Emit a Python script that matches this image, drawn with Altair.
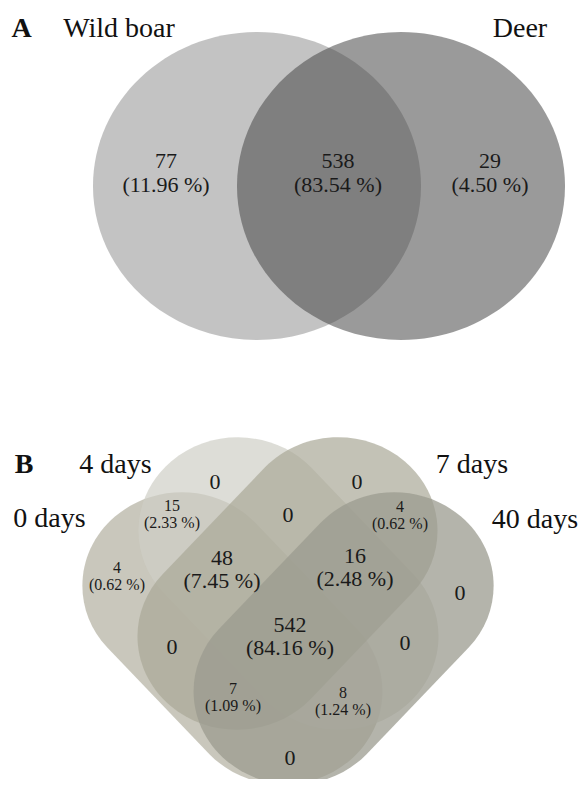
import math
import altair as alt
import pandas as pd

# ---------------- data ----------------
a_set_names = ["Wild boar", "Deer"]
a_region_counts = [77, 538, 29]
a_region_pcts = ["(11.96 %)", "(83.54 %)", "(4.50 %)"]

b_set_names = ["0 days", "4 days", "7 days", "40 days"]
b_region_counts = [0, 0, 0, 15, 4, 4, 48, 16, 0, 0, 542, 0, 7, 8, 0]
b_region_pcts = ["", "", "", "(2.33 %)", "(0.62 %)", "(0.62 %)", "(7.45 %)",
                 "(2.48 %)", "", "", "(84.16 %)", "", "(1.09 %)", "(1.24 %)", ""]

# ---------------- layout (page pixels) ----------------
STRETCH = 1.065          # the figure is slightly wider than tall
UNIT = 100.0             # path units -> pixels (size = (2*UNIT)^2)

a_shape_x = [257, 401]
a_shape_y = [186, 186]
a_shape_r = 154
a_shape_colors = ["#929292", "#474747"]
a_shape_opacity = [0.55, 0.55]

a_label_x = [166, 338, 490]
a_count_y = [161, 161, 161]
a_pct_y = [185, 185, 185]

b_shape_x = [232.4, 288.5, 287.5, 343.6]
b_shape_y = [638.5, 583.5, 583.5, 638.5]
b_shape_angle = [48, 48, 132, 132]
b_shape_half = 71.5
b_shape_r = 93.4
b_shape_colors = ["#b2afa0", "#cfcfc6", "#aaa897", "#9b9b8f"]
b_shape_opacity = [0.7, 0.7, 0.7, 0.75]

b_label_x = [215, 357, 288, 172, 400, 117, 222, 355, 460, 172, 290, 405, 233, 343, 290]
b_count_y = [482, 482, 515, 505.5, 507, 568, 557.5, 555.5, 593, 647, 625, 643, 689, 692.5, 758]
b_pct_y = [0, 0, 0, 522.5, 524, 585, 580.5, 578.5, 0, 0, 648, 0, 706, 709.5, 0]
b_small = [False, False, False, True, True, True, False, False, False, False,
           False, False, True, True, False]

set_label_text = ["Wild boar", "Deer", "4 days", "7 days", "0 days", "40 days"]
set_label_x = [119, 520, 115.5, 472, 49.5, 535]
set_label_y = [37, 37, 473, 473, 527, 528]
panel_letters = ["A", "B"]
panel_x = [21.5, 24]
panel_y = [37, 473]


def ellipse_path(rx, ry):
    rx, ry = rx / UNIT, ry / UNIT
    return (f"M {rx:.4f} 0 A {rx:.4f} {ry:.4f} 0 1 1 {-rx:.4f} 0 "
            f"A {rx:.4f} {ry:.4f} 0 1 1 {rx:.4f} 0 Z")


def stadium_path(theta_deg, half_len, radius, stretch):
    t = math.radians(theta_deg)
    c, s = math.cos(t), math.sin(t)

    def tr(px, py):
        x = (px * c - py * s) * stretch / UNIT
        y = (px * s + py * c) / UNIT
        return f"{x:.4f} {y:.4f}"

    rx = radius * stretch / UNIT
    ry = radius / UNIT
    p1 = tr(-half_len, -radius)
    p2 = tr(half_len, -radius)
    p3 = tr(half_len, radius)
    p4 = tr(-half_len, radius)
    return (f"M {p1} L {p2} A {rx:.4f} {ry:.4f} 0 0 1 {p3} "
            f"L {p4} A {rx:.4f} {ry:.4f} 0 0 1 {p1} Z")


# ---------------- tables ----------------
shape_rows = []
order = 0
for i, name in enumerate(a_set_names):
    shape_rows.append(dict(set=name, x=a_shape_x[i], y=a_shape_y[i],
                           path=ellipse_path(a_shape_r * STRETCH, a_shape_r),
                           color=a_shape_colors[i], op=a_shape_opacity[i], o=order))
    order += 1
for i, name in enumerate(b_set_names):
    shape_rows.append(dict(set=name, x=b_shape_x[i], y=b_shape_y[i],
                           path=stadium_path(b_shape_angle[i], b_shape_half, b_shape_r, STRETCH),
                           color=b_shape_colors[i], op=b_shape_opacity[i], o=order))
    order += 1
shapes = pd.DataFrame(shape_rows)

text_rows = []
for i in range(3):
    text_rows.append(dict(x=a_label_x[i], y=a_count_y[i], t=str(a_region_counts[i]), fs=22))
    text_rows.append(dict(x=a_label_x[i], y=a_pct_y[i], t=a_region_pcts[i], fs=22))
for i in range(len(b_region_counts)):
    fs = 16 if b_small[i] else 22
    text_rows.append(dict(x=b_label_x[i], y=b_count_y[i], t=str(b_region_counts[i]), fs=fs))
    if b_region_pcts[i]:
        text_rows.append(dict(x=b_label_x[i], y=b_pct_y[i], t=b_region_pcts[i], fs=fs))
region_text = pd.DataFrame(text_rows)

set_labels = pd.DataFrame(dict(x=set_label_x, y=set_label_y, t=set_label_text))
letters = pd.DataFrame(dict(x=panel_x, y=panel_y, t=panel_letters))

# ---------------- chart ----------------
X = alt.X("x:Q", scale=alt.Scale(domain=[8, 578], nice=False, zero=False), axis=None)
Y = alt.Y("y:Q", scale=alt.Scale(domain=[8, 779], nice=False, zero=False, reverse=True), axis=None)
FONT = "Liberation Serif"

shape_layer = alt.Chart(shapes).mark_point(filled=True, strokeWidth=0, size=(2 * UNIT) ** 2).encode(
    x=X, y=Y,
    shape=alt.Shape("path:N", scale=None, legend=None),
    color=alt.Color("color:N", scale=None, legend=None),
    opacity=alt.Opacity("op:Q", scale=None, legend=None),
    order=alt.Order("o:Q"),
)

region_layer = alt.Chart(region_text).mark_text(font=FONT, color="#1a1a1a", baseline="middle", align="center").encode(
    x=X, y=Y, text="t:N", size=alt.Size("fs:Q", scale=None, legend=None)
)

set_layer = alt.Chart(set_labels).mark_text(font=FONT, fontSize=28, color="#111111",
                                            baseline="alphabetic", align="center").encode(
    x=X, y=Y, text="t:N"
)

letter_layer = alt.Chart(letters).mark_text(font=FONT, fontSize=28, fontWeight="bold", color="#111111",
                                            baseline="alphabetic", align="center").encode(
    x=X, y=Y, text="t:N"
)

chart = alt.layer(shape_layer, region_layer, set_layer, letter_layer).properties(
    width=570, height=771, padding=0, autosize=alt.AutoSizeParams(type="none")
).configure_view(stroke=None)

chart.save("out.html", embed_options={"renderer": "svg", "actions": False})
